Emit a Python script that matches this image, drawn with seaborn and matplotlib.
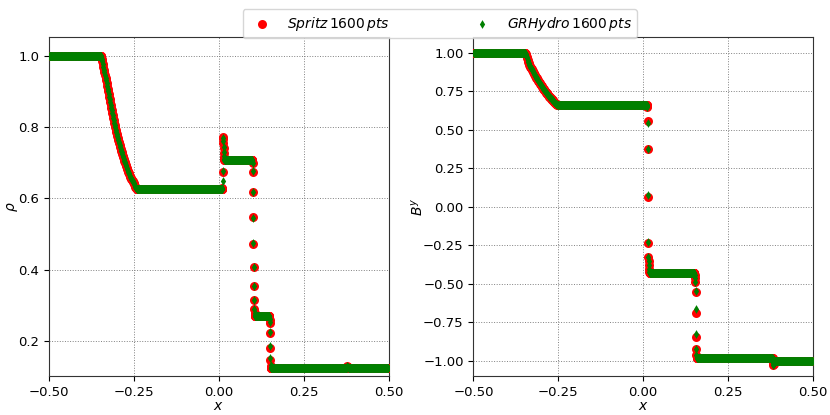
import numpy as np
import pandas as pd
import seaborn as sns
import matplotlib
matplotlib.use("Agg")
import matplotlib.pyplot as plt

N_CELLS = 1600

# ---- density: constant states (x range, value) ----
rho_state_lo = [-0.5, -0.242, 0.0165, 0.1065, 0.154, 0.381]
rho_state_hi = [-0.347, 0.0105, 0.0985, 0.1485, 0.377, 0.5]
rho_state_val = [1.0, 0.626, 0.707, 0.270, 0.123, 0.125]

# density: left fast rarefaction fan
rho_fan_x = [-0.347, -0.3455, -0.344, -0.3425, -0.341, -0.3395, -0.338, -0.3365, -0.335,
             -0.3335, -0.332, -0.3305, -0.329, -0.3275, -0.326, -0.3245, -0.323, -0.3215,
             -0.320, -0.3185, -0.317, -0.3155, -0.314, -0.3125, -0.311, -0.3095, -0.308,
             -0.3065, -0.305, -0.3035, -0.302, -0.3005, -0.299, -0.2975, -0.296, -0.2945,
             -0.293, -0.2915, -0.290, -0.2885, -0.287, -0.2855, -0.284, -0.2825, -0.281,
             -0.2795, -0.278, -0.2765, -0.275, -0.2735, -0.272, -0.2705, -0.269, -0.2675,
             -0.266, -0.2645, -0.263, -0.2615, -0.260, -0.2585, -0.257, -0.2555, -0.254,
             -0.2525, -0.251, -0.2495, -0.248, -0.2465, -0.245, -0.2435]
rho_fan_y = [1.000, 0.997, 0.992, 0.985, 0.978, 0.970, 0.961, 0.954, 0.946,
             0.938, 0.931, 0.923, 0.915, 0.908, 0.900, 0.893, 0.885, 0.878,
             0.870, 0.863, 0.855, 0.848, 0.840, 0.833, 0.826, 0.819, 0.812,
             0.805, 0.799, 0.793, 0.787, 0.781, 0.776, 0.770, 0.765, 0.759,
             0.754, 0.749, 0.744, 0.739, 0.734, 0.729, 0.724, 0.720, 0.715,
             0.710, 0.706, 0.702, 0.698, 0.694, 0.690, 0.686, 0.682, 0.678,
             0.675, 0.671, 0.668, 0.664, 0.661, 0.657, 0.654, 0.651, 0.648,
             0.645, 0.642, 0.639, 0.636, 0.633, 0.630, 0.628]

# density: points inside the discontinuities
rho_jump_x = [0.0109, 0.0116, 0.0122, 0.0128, 0.0134, 0.0141, 0.0147, 0.0153, 0.0159,
              0.0991, 0.0997, 0.1003, 0.1009, 0.1016, 0.1022, 0.1028, 0.1034, 0.1041,
              0.1047, 0.1053, 0.1059,
              0.1491, 0.1497, 0.1503, 0.1509, 0.1516, 0.1522, 0.1528, 0.1534,
              0.3778, 0.3784, 0.3791, 0.3797, 0.3803]
rho_jump_spritz = [0.629, 0.675, 0.773, 0.766, 0.754, 0.740, 0.727, 0.717, 0.711,
                   0.704, 0.700, 0.675, 0.619, 0.547, 0.473, 0.407, 0.353, 0.314,
                   0.289, 0.278, 0.273,
                   0.266, 0.259, 0.249, 0.221, 0.181, 0.146, 0.130, 0.125,
                   0.124, 0.127, 0.128, 0.127, 0.126]
rho_jump_grhydro = [0.628, 0.649, 0.676, 0.770, 0.760, 0.745, 0.730, 0.718, 0.711,
                    0.704, 0.700, 0.676, 0.618, 0.546, 0.474, 0.407, 0.353, 0.315,
                    0.290, 0.278, 0.273,
                    0.266, 0.260, 0.252, 0.224, 0.184, 0.151, 0.132, 0.125,
                    0.124, 0.127, 0.128, 0.127, 0.126]

# ---- B^y: constant states ----
by_state_lo = [-0.5, -0.2475, 0.0185, 0.158, 0.3866]
by_state_hi = [-0.348, 0.011, 0.1515, 0.381, 0.5]
by_state_val = [1.0, 0.660, -0.427, -0.978, -1.0]

# B^y: left fast rarefaction fan
by_fan_x = [-0.348, -0.3465, -0.345, -0.3435, -0.342, -0.3405, -0.339, -0.3375, -0.336,
            -0.3345, -0.333, -0.3315, -0.330, -0.3285, -0.327, -0.3255, -0.324, -0.3225,
            -0.321, -0.3195, -0.318, -0.3165, -0.315, -0.3135, -0.312, -0.3105, -0.309,
            -0.3075, -0.306, -0.3045, -0.303, -0.3015, -0.300, -0.2985, -0.297, -0.2955,
            -0.294, -0.2925, -0.291, -0.2895, -0.288, -0.2865, -0.285, -0.2835, -0.282,
            -0.2805, -0.279, -0.2775, -0.276, -0.2745, -0.273, -0.2715, -0.270, -0.2685,
            -0.267, -0.2655, -0.264, -0.2625, -0.261, -0.2595, -0.258, -0.2565, -0.255,
            -0.2535, -0.252, -0.2505, -0.249]
by_fan_y = [1.000, 0.994, 0.985, 0.974, 0.963, 0.952, 0.942, 0.932, 0.922,
            0.916, 0.910, 0.904, 0.898, 0.892, 0.886, 0.880, 0.874, 0.868,
            0.862, 0.856, 0.850, 0.844, 0.838, 0.833, 0.828, 0.823, 0.818,
            0.813, 0.808, 0.803, 0.798, 0.793, 0.788, 0.783, 0.778, 0.773,
            0.768, 0.763, 0.758, 0.753, 0.749, 0.744, 0.740, 0.736, 0.732,
            0.728, 0.724, 0.720, 0.716, 0.711, 0.707, 0.703, 0.699, 0.695,
            0.691, 0.687, 0.683, 0.679, 0.676, 0.673, 0.670, 0.668, 0.666,
            0.664, 0.663, 0.662, 0.661]

# B^y: points inside the discontinuities
by_jump_x = [0.0116, 0.0122, 0.0128, 0.0134, 0.0141, 0.0147, 0.0153, 0.0159, 0.0166,
             0.0172, 0.0178,
             0.1522, 0.1528, 0.1534, 0.1541, 0.1547, 0.1553, 0.1559, 0.1566, 0.1572,
             0.3816, 0.3822, 0.3828, 0.3834, 0.3841, 0.3847, 0.3853, 0.3859]
by_jump_spritz = [0.656, 0.650, 0.556, 0.373, 0.066, -0.232, -0.323, -0.350, -0.380,
                  -0.405, -0.420,
                  -0.440, -0.460, -0.485, -0.550, -0.686, -0.842, -0.924, -0.958, -0.972,
                  -0.985, -1.000, -1.015, -1.024, -1.022, -1.015, -1.008, -1.003]
by_jump_grhydro = [0.656, 0.650, 0.546, 0.373, 0.076, -0.230, -0.323, -0.352, -0.380,
                   -0.405, -0.420,
                   -0.440, -0.462, -0.490, -0.548, -0.665, -0.822, -0.922, -0.958, -0.972,
                   -0.985, -1.000, -1.015, -1.024, -1.022, -1.015, -1.008, -1.003]

x_ticks = [-0.5, -0.25, 0.0, 0.25, 0.5]
labels = {"Spritz": r"$Spritz\,1600\,pts$", "GRHydro": r"$GRHydro\,1600\,pts$"}

cells_x = -0.5 + (np.arange(N_CELLS) + 0.5) / N_CELLS


def build(lo, hi, val, fan_x, fan_y, jump_x, jump_y):
    xs, ys = [], []
    for a, b, v in zip(lo, hi, val):
        m = (cells_x >= a) & (cells_x <= b)
        xs.append(cells_x[m])
        ys.append(np.full(m.sum(), v))
    xs += [np.array(fan_x), np.array(jump_x)]
    ys += [np.array(fan_y), np.array(jump_y)]
    df = pd.DataFrame({"x": np.concatenate(xs), "y": np.concatenate(ys)})
    return df.sort_values("x")


rho_sp = build(rho_state_lo, rho_state_hi, rho_state_val, rho_fan_x, rho_fan_y, rho_jump_x, rho_jump_spritz)
rho_gr = build(rho_state_lo, rho_state_hi, rho_state_val, rho_fan_x, rho_fan_y, rho_jump_x, rho_jump_grhydro)
by_sp = build(by_state_lo, by_state_hi, by_state_val, by_fan_x, by_fan_y, by_jump_x, by_jump_spritz)
by_gr = build(by_state_lo, by_state_hi, by_state_val, by_fan_x, by_fan_y, by_jump_x, by_jump_grhydro)

sns.set_style("ticks")
plt.rcParams["mathtext.fontset"] = "dejavusans"
plt.rcParams["text.color"] = "black"
plt.rcParams["xtick.color"] = "black"
plt.rcParams["ytick.color"] = "black"
plt.rcParams["axes.labelcolor"] = "black"

fig, axes = plt.subplots(1, 2, figsize=(8.3, 4.15), dpi=100)
fig.subplots_adjust(left=0.059, right=0.9795, bottom=0.093, top=0.91, wspace=0.25)

panels = [(axes[0], rho_sp, rho_gr, r"$\rho$", (0.10, 1.052)),
          (axes[1], by_sp, by_gr, r"$B^y$", (-1.1, 1.1))]

for ax, sp, gr, ylab, ylim in panels:
    sns.scatterplot(data=sp, x="x", y="y", ax=ax, color="red", marker="o", s=42,
                    linewidth=0, label=labels["Spritz"], zorder=3)
    sns.scatterplot(data=gr, x="x", y="y", ax=ax, color="green", marker="d", s=20,
                    linewidth=0, label=labels["GRHydro"], zorder=4)
    if ax.get_legend() is not None:
        ax.get_legend().remove()
    ax.set_xlim(-0.5, 0.5)
    ax.set_ylim(*ylim)
    ax.set_xticks(x_ticks)
    ax.grid(True, color="gray", linestyle=":", linewidth=0.7)
    ax.set_axisbelow(True)
    ax.set_xlabel(r"$x$", fontsize=10, labelpad=0)
    ax.set_ylabel(ylab, fontsize=10, labelpad=-1.5)
    ax.tick_params(labelsize=9.5)
    for sp_ in ax.spines.values():
        sp_.set_color("#333333")

handles, labs = axes[0].get_legend_handles_labels()
fig.legend(handles, labs, loc="upper center", bbox_to_anchor=(0.53, 0.995), ncol=2,
           fontsize=10, columnspacing=5.6, frameon=True)

fig.savefig("out.png", dpi=100)
